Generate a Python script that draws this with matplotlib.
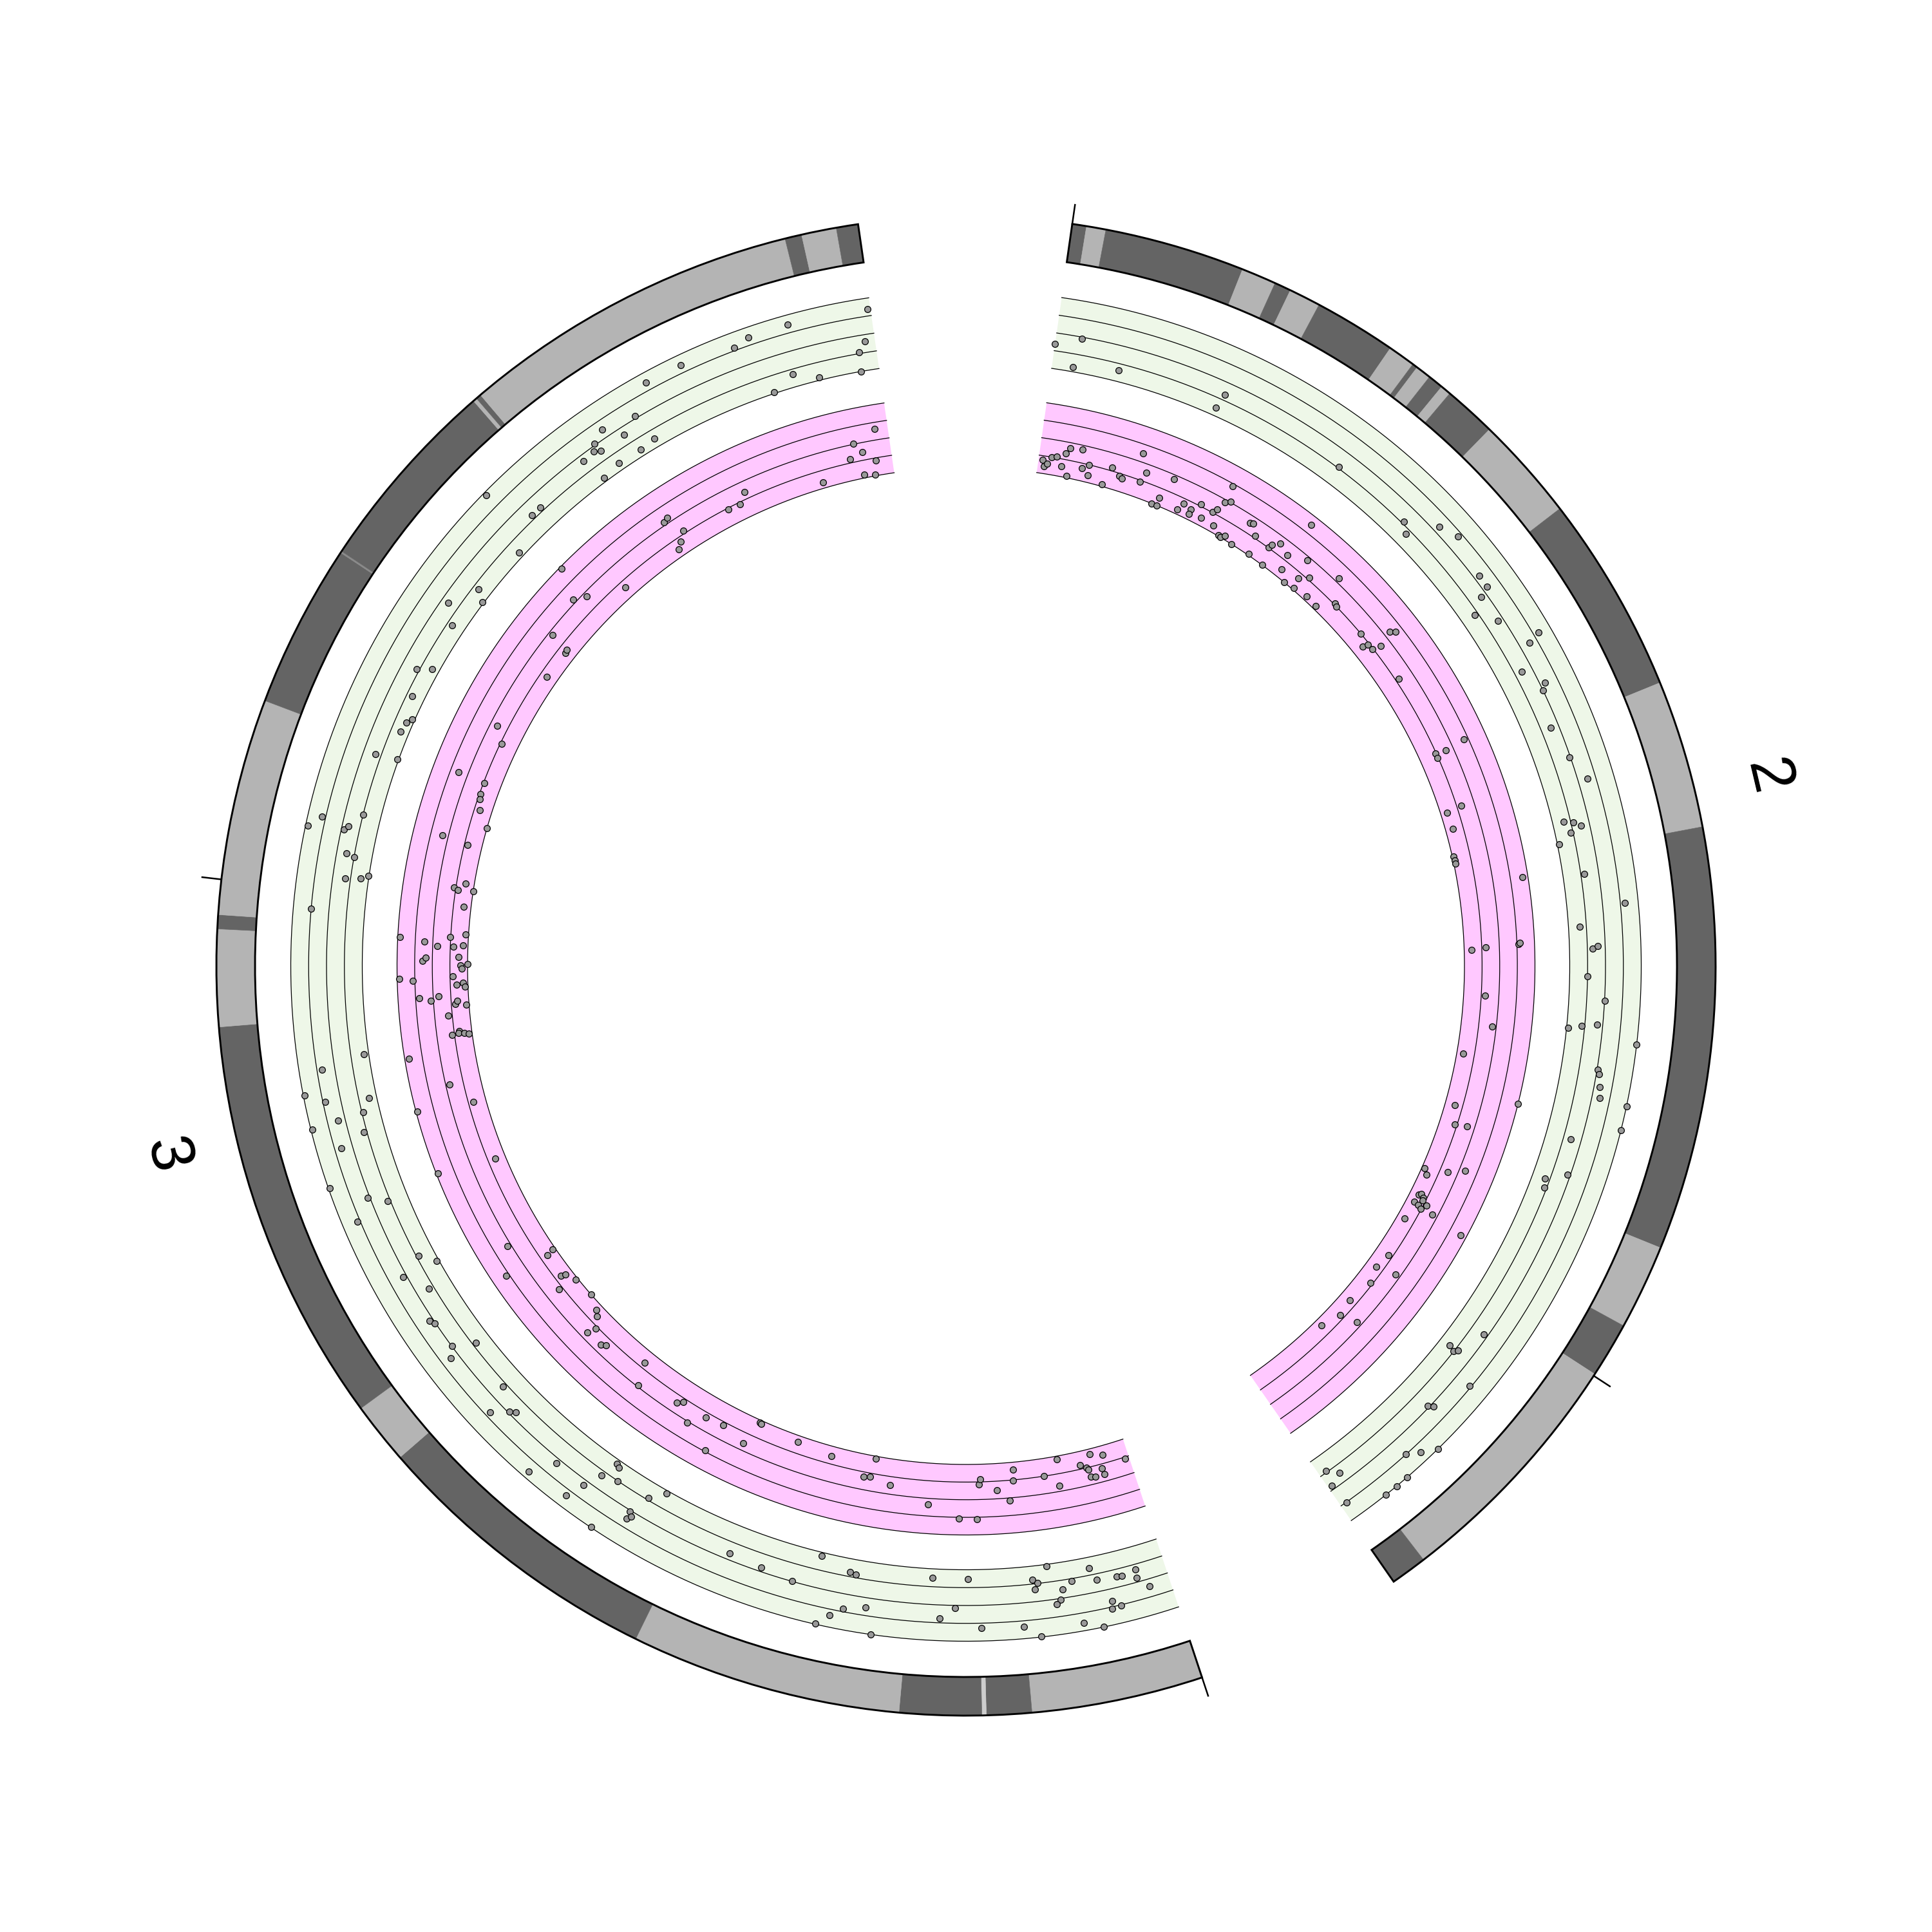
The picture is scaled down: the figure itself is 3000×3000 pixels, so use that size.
import numpy as np
import matplotlib
matplotlib.use("Agg")
import matplotlib.pyplot as plt

# ---------------- data ----------------
chrom_names = ["2", "3"]
chrom_lengths = [119.2, 165.3]          # Mb
first_start_deg = 8.15
gap_deg = 16.43
tick_step = 100

chr2_band_edges = [0, 0.96, 2.27, 11.74, 14.09, 15.21, 17.35, 22.9, 24.74, 25.09, 26.13,
                   27.17, 27.87, 31.43, 38.48, 51.87, 61.87, 90.39, 96.13, 99.87, 116.74, 119.2]
chr2_band_stain = ["dark", "light", "dark", "light", "dark", "light", "dark", "light", "dark",
                   "light", "dark", "light", "dark", "light", "dark", "light", "dark", "light",
                   "dark", "light", "dark"]
chr3_band_edges = [0, 11.57, 14.61, 14.91, 20.43, 38.7, 58.61, 62.78, 90.17, 96.7, 97.65,
                   112.26, 123.33, 123.45, 136.78, 137.04, 137.39, 160.35, 161.48, 163.83, 165.3]
chr3_band_stain = ["light", "dark", "pale", "dark", "light", "dark", "light", "dark", "light",
                   "dark", "light", "dark", "faint", "dark", "light", "dark", "light", "dark",
                   "light", "dark"]
stain_colors = {"dark": "#646464", "light": "#B4B4B4", "pale": "#CDCDCD", "faint": "#8A8A8A"}

chr2_green_pos = [0.0, 2.0, 1.7, 5.4, 14.1, 13.9, 24.9, 31.7, 32.5, 33.9, 35.4, 38.8, 39.8, 40.2,
                  41.1, 42.5, 44.9, 45.2, 46.9, 48.5, 49.0, 51.9, 54.6, 56.6, 59.4, 59.6, 60.0,
                  60.4, 61.1, 63.8, 66.4, 68.0, 69.8, 69.6, 72.0, 73.9, 76.3, 76.0, 75.8, 77.0,
                  79.3, 79.6, 80.6, 81.4, 81.6, 83.4, 85.1, 87.8, 88.7, 89.4, 102.0, 104.3, 104.5,
                  104.2, 105.8, 109.1, 108.8, 112.9, 112.0, 110.9, 114.0, 115.0, 116.0, 118.7,
                  118.6, 117.8, 118.9]
chr2_green_val = [0.35, 0.48, 0.06, 0.16, 0.33, 0.11, 0.27, 0.28, 0.18, 0.59, 0.69, 0.57, 0.57,
                  0.42, 0.20, 0.43, 0.82, 0.64, 0.35, 0.57, 0.50, 0.39, 0.49, 0.63, 0.15, 0.28,
                  0.38, 0.22, 0.02, 0.30, 0.81, 0.16, 0.32, 0.40, 0.25, 0.50, 0.02, 0.21, 0.42,
                  1.00, 0.51, 0.54, 0.58, 0.61, 1.00, 1.00, 0.35, 0.46, 0.18, 0.22, 0.44, 0.15,
                  0.25, 0.29, 0.73, 0.48, 0.54, 0.75, 0.87, 1.00, 1.00, 1.00, 1.00, 0.76, 0.23,
                  0.36, 0.44]

chr2_pink_pos = [0.4, 0.6, 0.9, 1.2, 1.7, 2.5, 2.8, 4.0, 2.3, 3.0,
                 4.3, 4.9, 5.0, 6.6, 7.1, 8.0, 8.3, 10.1, 9.5, 10.4,
                 13.0, 18.2, 12.4, 11.9, 12.5, 14.5, 14.8, 15.7, 15.7, 16.4,
                 17.0, 17.7, 18.0, 18.4, 18.3, 18.7, 19.3, 19.6, 19.9, 20.9,
                 21.3, 21.6, 22.4, 22.9, 24.6, 24.1, 24.2, 24.8, 26.0, 26.0,
                 26.4, 27.4, 28.5, 28.2, 27.8, 29.0, 31.1, 30.0, 31.3, 32.5,
                 32.8, 36.3, 37.4, 37.6, 38.2, 38.4, 37.9, 38.2, 42.0, 49.9,
                 50.0, 50.5, 50.1, 55.6, 55.8, 57.5, 60.2, 60.6, 60.9, 63.3,
                 69.6, 69.4, 69.2, 69.1, 74.0, 76.9, 79.9, 83.4, 85.0, 86.8,
                 86.6, 91.9, 92.4, 91.3, 90.6, 94.5, 94.3, 94.6, 95.3, 95.4,
                 94.8, 95.1, 95.6, 95.6, 97.2, 96.0, 101.1, 102.7, 102.2, 104.3,
                 106.9, 108.6, 108.0, 110.6]
chr2_pink_val = [0.19, 0.10, 0.15, 0.25, 0.27, 0.34, 0.42, 0.44, 0.15, 0.03,
                 0.18, 0.25, 0.10, 0.03, 0.30, 0.21, 0.19, 0.23, 0.62, 0.38,
                 0.44, 0.72, 0.11, 0.00, 0.00, 0.07, 0.18, 0.15, 0.08, 0.28,
                 0.11, 0.26, 0.32, 0.10, 0.46, 0.51, 0.01, 0.00, 0.05, 0.00,
                 0.39, 0.41, 0.28, 0.02, 0.00, 0.26, 0.31, 0.40, 0.33, 0.87,
                 0.12, 0.00, 0.03, 0.17, 0.45, 0.28, 0.56, 0.06, 0.05, 0.27,
                 0.25, 0.25, 0.15, 0.23, 0.24, 0.36, 0.58, 0.65, 0.30, 0.69,
                 0.24, 0.24, 0.39, 0.31, 0.09, 0.10, 0.02, 0.02, 0.02, 0.92,
                 0.10, 0.31, 0.77, 0.79, 0.30, 0.44, 0.09, 1.00, 0.14, 0.22,
                 0.39, 0.04, 0.10, 0.36, 0.58, 0.12, 0.15, 0.20, 0.11, 0.18,
                 0.21, 0.29, 0.24, 0.43, 0.11, 0.92, 0.19, 0.15, 0.43, 0.22,
                 0.15, 0.19, 0.43, 0.10]

chr3_green_pos = [27.9, 25.4, 24.9, 29.7, 18.7, 15.8, 10.6, 10.2, 10.5, 8.3, 8.6, 8.9, 9.3, 5.9,
                  7.5, 5.5, 3.9, 3.5, 2.3, 2.4, 1.6, 4.7, 4.1, 4.8, 7.1, 5.7, 10.4, 11.6, 14.8,
                  18.0, 16.8, 23.7, 25.4, 26.3, 27.2, 23.0,
                  82.0, 80.8, 80.1, 77.5, 75.8, 75.0, 74.4, 70.0, 68.9, 69.1, 67.3, 65.1, 64.7,
                  62.5, 61.8, 61.6, 57.5, 56.7, 55.7, 55.3, 50.3, 51.5, 47.6, 48.2, 46.9, 46.4,
                  46.1, 45.6, 42.8, 41.7, 43.5, 43.4, 43.2, 45.3, 35.0, 32.3,
                  123.4, 118.9, 119.5, 116.8, 115.1, 114.7, 113.8, 111.4, 111.6, 104.7, 105.6,
                  106.5, 105.0, 105.3, 103.2, 103.0, 101.2, 101.4, 101.7, 98.6, 87.0, 86.3,
                  84.6, 83.8, 83.4, 82.4, 82.2,
                  165.1, 159.0, 155.9, 154.6, 150.4, 147.5, 164.5, 163.9, 158.3, 160.3, 163.8,
                  156.4, 145.5, 142.8, 144.0, 145.9, 141.7, 141.3, 141.8, 144.5, 140.2, 142.4,
                  140.7, 132.9, 135.2, 134.3, 131.4, 127.0, 124.7, 126.4]
chr3_green_val = [0.05, 0.19, 0.21, 0.50, 0.13, 0.13, 0.19, 0.24, 0.33, 0.38, 0.52, 0.57, 0.03,
                  0.15, 0.28, 0.33, 0.35, 0.36, 0.32, 0.44, 0.60, 0.67, 0.76, 0.78, 0.89, 1.00,
                  0.99, 0.83, 0.82, 0.69, 0.54, 0.64, 0.71, 0.83, 0.99, 1.00,
                  0.98, 0.29, 0.66, 0.98, 0.53, 0.29, 0.79, 0.22, 0.03, 0.55, 0.32, 0.55, 0.51,
                  0.50, 0.61, 0.20, 0.30, 0.68, 0.48, 0.42, 0.57, 0.91, 0.57, 0.84, 0.32, 0.06,
                  0.09, 0.26, 0.22, 0.04, 0.52, 0.62, 0.57, 0.99, 0.41, 0.44,
                  0.18, 0.29, 0.10, 0.17, 0.03, 0.09, 0.12, 0.33, 0.02, 0.97, 0.80,
                  0.25, 0.46, 0.41, 0.36, 0.25, 0.32, 0.11, 0.01, 0.75, 0.07, 0.68,
                  0.98, 0.72, 0.11, 0.23, 0.60,
                  0.85, 0.87, 0.86, 0.79, 0.86, 0.86, 0.41, 0.27, 0.18, 0.04, 0.00,
                  0.02, 0.53, 0.62, 0.39, 0.13, 0.52, 0.44, 0.39, 0.09, 0.41, 0.10,
                  0.06, 0.96, 0.31, 0.31, 0.07, 0.17, 0.40, 0.02]

chr3_pink_pos = [32.9, 29.3, 25.0, 25.8, 25.2, 23.2, 19.5, 16.6, 15.0, 14.7, 14.6, 13.0, 11.9,
                 11.3, 11.4, 8.4, 6.9, 7.1, 4.8, 4.2, 4.1, 3.6, 2.4, 2.8, 4.0, 3.6, 2.7, 0.4,
                 74.9, 75.6, 66.9, 64.7, 64.1, 64.3, 61.7, 61.5, 60.5, 60.8, 58.4, 56.9, 56.4,
                 55.6, 55.9, 54.2, 53.8, 49.9, 49.0, 45.1, 44.6, 43.3, 42.0, 40.2, 40.6, 37.7,
                 37.1, 36.9,
                 127.9, 127.3, 127.6, 124.3, 117.8, 116.5, 112.4, 112.3, 111.2, 110.7, 109.7,
                 108.2, 106.4, 106.1, 101.8, 101.6, 102.4, 101.7, 100.1, 96.8, 96.5, 96.1,
                 97.0, 96.1, 96.3, 97.4, 94.7, 95.0, 95.1, 94.3, 94.0, 94.4, 93.2, 93.1, 92.9,
                 92.4, 92.6, 92.2, 91.3, 91.0, 91.4, 90.5, 90.8, 90.4, 89.5, 87.9, 87.7, 87.6,
                 87.6, 87.5, 86.0, 83.0, 81.3, 80.8,
                 164.1, 161.9, 162.6, 161.3, 163.7, 162.3, 163.4, 158.2, 150.7, 149.8, 148.6,
                 142.7, 143.2, 143.8, 143.0, 142.4, 132.9, 136.0, 131.6, 132.7]
chr3_pink_val = [0.09, 0.14, 0.03, 0.32, 0.30, 0.37, 0.59, 0.77, 0.78, 0.29, 0.21, 0.38, 0.54,
                 0.10, 0.26, 0.25, 0.04, 0.42, 0.19, 0.25, 0.28, 0.07, 0.13, 0.31, 0.39, 0.40,
                 0.40, 0.27,
                 0.14, 0.98, 0.55, 0.79, 0.15, 0.04, 0.16, 0.10, 0.03, 0.30, 0.00, 0.09, 0.15,
                 0.28, 0.40, 0.39, 0.35, 0.17, 0.48, 0.36, 0.30, 0.52, 0.32, 0.30, 0.73, 0.40,
                 0.04, 0.04,
                 0.44, 0.14, 0.15, 0.15, 0.40, 0.23, 0.63, 0.24, 0.24, 0.22, 0.17,
                 0.00, 0.58, 0.21, 0.28, 0.22, 0.12, 0.00, 0.10, 0.97, 0.62, 0.43,
                 0.26, 0.21, 0.07, 0.04, 0.64, 0.59, 0.13, 0.10, 0.08, 0.00, 0.21, 0.97, 0.78,
                 0.16, 0.07, 0.04, 0.70, 0.54, 0.42, 0.19, 0.16, 0.04, 0.31, 0.18, 0.19, 0.28,
                 0.11, 0.05, 0.94, 0.45, 0.98, 0.18,
                 0.66, 0.51, 0.37, 0.30, 0.21, 0.05, 0.02, 0.08, 0.35, 0.22, 0.23,
                 0.54, 0.57, 0.29, 0.18, 0.11, 0.97, 0.16, 0.55, 0.44]

# ---------------- layout ----------------
IDEO_R = (0.736, 0.776)
GREEN_R = (0.625, 0.699)
PINK_R = (0.516, 0.589)
LABEL_R = 0.851
TICK_LEN = 0.020
GREEN_BG = "#EEF7E8"
PINK_BG = "#FFC8FF"
POINT_FC = "#999999"

deg_per_unit = (360.0 - gap_deg * len(chrom_lengths)) / sum(chrom_lengths)
chrom_start_deg = []
d = first_start_deg
for L in chrom_lengths:
    chrom_start_deg.append(d)
    d += L * deg_per_unit + gap_deg


def to_theta(ci, pos):
    return np.deg2rad(chrom_start_deg[ci] + np.asarray(pos, dtype=float) * deg_per_unit)


fig = plt.figure(figsize=(10, 10), dpi=300)
ax = fig.add_axes([0, 0, 1, 1], projection="polar")
ax.set_theta_zero_location("N")
ax.set_theta_direction(-1)
ax.set_ylim(0, 1)
ax.axis("off")

band_edges = [chr2_band_edges, chr3_band_edges]
band_stain = [chr2_band_stain, chr3_band_stain]
green_data = [(chr2_green_pos, chr2_green_val), (chr3_green_pos, chr3_green_val)]
pink_data = [(chr2_pink_pos, chr2_pink_val), (chr3_pink_pos, chr3_pink_val)]

for ci, L in enumerate(chrom_lengths):
    t0 = to_theta(ci, 0)
    t1 = to_theta(ci, L)
    # ideogram bands
    edges = band_edges[ci]
    for k, stain in enumerate(band_stain[ci]):
        a = to_theta(ci, edges[k])
        b = to_theta(ci, edges[k + 1])
        col = stain_colors[stain]
        ax.bar((a + b) / 2, IDEO_R[1] - IDEO_R[0], width=b - a, bottom=IDEO_R[0],
               color=col, edgecolor=col, linewidth=0.15, zorder=2)
    ax.bar((t0 + t1) / 2, IDEO_R[1] - IDEO_R[0], width=t1 - t0, bottom=IDEO_R[0],
           facecolor="none", edgecolor="black", linewidth=0.7, zorder=3)
    # ticks
    for p in np.arange(0, L + 1e-9, tick_step):
        tt = to_theta(ci, p)
        ax.plot([tt, tt], [IDEO_R[1], IDEO_R[1] + TICK_LEN], color="black", lw=0.6, zorder=3)
    # label
    mid_deg = chrom_start_deg[ci] + L * deg_per_unit / 2
    rot = (-mid_deg + 180) % 360 - 180
    if rot > 90:
        rot -= 180
    elif rot < -90:
        rot += 180
    ax.text(np.deg2rad(mid_deg), LABEL_R, chrom_names[ci], rotation=rot,
            rotation_mode="anchor", ha="center", va="center", fontsize=23,
            family=["Liberation Sans", "DejaVu Sans"])

    tgrid = np.linspace(t0, t1, 400)
    for (r0, r1), bg, data in [(GREEN_R, GREEN_BG, green_data[ci]),
                               (PINK_R, PINK_BG, pink_data[ci])]:
        ax.bar((t0 + t1) / 2, r1 - r0, width=t1 - t0, bottom=r0, color=bg,
               edgecolor="none", linewidth=0, zorder=1)
        for f in [0, 0.25, 0.5, 0.75, 1.0]:
            ax.plot(tgrid, np.full_like(tgrid, r0 + f * (r1 - r0)), color="black",
                    lw=0.3, zorder=2)
        pos, val = data
        ax.scatter(to_theta(ci, pos), r0 + np.asarray(val) * (r1 - r0), s=5.5,
                   c=POINT_FC, edgecolors="black", linewidths=0.3, zorder=5)

fig.savefig("out.png", dpi=300, facecolor="white")
